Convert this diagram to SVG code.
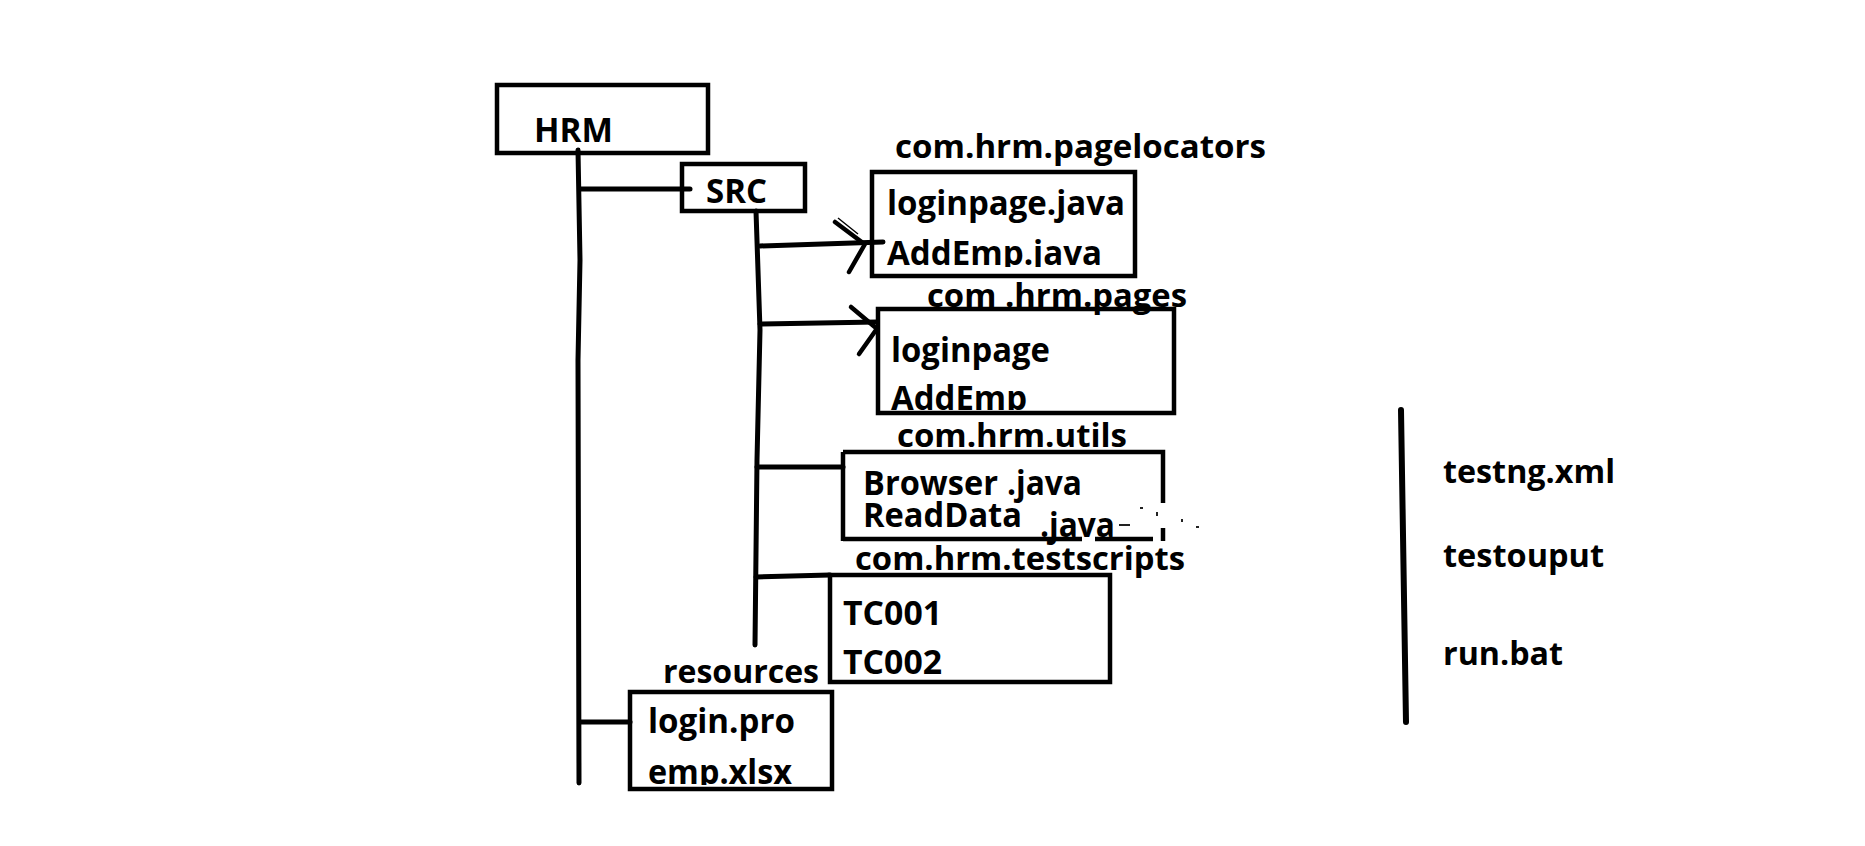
<svg xmlns="http://www.w3.org/2000/svg" width="1865" height="846" viewBox="0 0 1865 846">
<style>
.t{font-family:"Open Sans","Liberation Sans",sans-serif;font-weight:700;fill:#000;font-size:34px}
.lb{font-size:33px}
.box{fill:none;stroke:#000;stroke-width:4.5}
.ln{fill:none;stroke:#000;stroke-width:5;stroke-linecap:round;stroke-linejoin:round}
.ah{fill:none;stroke:#000;stroke-width:4.5;stroke-linecap:round}
</style>
<defs>
<clipPath id="c1"><rect x="860" y="220" width="300" height="47"/></clipPath>
<clipPath id="c2"><rect x="860" y="370" width="300" height="40"/></clipPath>
<clipPath id="c3"><rect x="630" y="740" width="200" height="45"/></clipPath>
</defs>
<rect width="1865" height="846" fill="#fff"/>
<g id="connectors">
<polyline class="ln" points="578,150 580,260 578,360 579,783"/>
<polyline class="ln" points="756,211 760,330 757,460 755,645"/>
<line class="ln" x1="580" y1="189" x2="690" y2="189"/>
<line class="ln" x1="580" y1="722" x2="630" y2="722"/>
<line class="ln" x1="760" y1="246" x2="883" y2="242"/>
<path class="ah" d="M835,222 L863,243 M849,272 L865,244"/>
<path d="M838,218 L858,234" stroke="#000" stroke-width="1.5" fill="none"/>
<line class="ln" x1="760" y1="324" x2="877" y2="322"/>
<path class="ah" d="M851,307 L876,328 M859,354 L876,330"/>
<line class="ln" x1="757" y1="467" x2="843" y2="467"/>
<line class="ln" x1="756" y1="577" x2="830" y2="575"/>
</g>
<g id="hrm">
<rect class="box" x="497" y="85" width="211" height="68"/>
<text class="t" x="534" y="142" font-size="36" textLength="79" lengthAdjust="spacingAndGlyphs">HRM</text>
</g>
<g id="src">
<rect class="box" x="682" y="164" width="123" height="47"/>
<text class="t" x="706" y="203" font-size="32" textLength="61" lengthAdjust="spacingAndGlyphs">SRC</text>
</g>
<g id="pagelocators">
<text class="t lb" x="895" y="158" textLength="371" lengthAdjust="spacingAndGlyphs">com.hrm.pagelocators</text>
<text class="t" x="887" y="215" textLength="238" lengthAdjust="spacingAndGlyphs">loginpage.java</text>
<text class="t" x="887" y="265" textLength="215" lengthAdjust="spacingAndGlyphs" clip-path="url(#c1)">AddEmp.java</text>
<rect class="box" x="872" y="172" width="263" height="104"/>
</g>
<g id="pages">
<text class="t lb" x="927" y="307" textLength="260" lengthAdjust="spacingAndGlyphs">com .hrm.pages</text>
<text class="t" x="891" y="362" textLength="159" lengthAdjust="spacingAndGlyphs">loginpage</text>
<text class="t" x="891" y="410" textLength="136" lengthAdjust="spacingAndGlyphs" clip-path="url(#c2)">AddEmp</text>
<rect class="box" x="878" y="309" width="296" height="104"/>
</g>
<g id="utils">
<text class="t lb" x="897" y="447" textLength="230" lengthAdjust="spacingAndGlyphs">com.hrm.utils</text>
<text class="t" x="863" y="495" textLength="135" lengthAdjust="spacingAndGlyphs">Browser</text>
<text class="t" x="1007" y="495" textLength="75" lengthAdjust="spacingAndGlyphs">.java</text>
<text class="t" x="863" y="527" textLength="159" lengthAdjust="spacingAndGlyphs">ReadData</text>
<path class="box" d="M843,452 H1163 V503 M1163,528 V541 M843,452 V541 M843,539 H1082 M1095,539 H1153"/>
<text class="t" x="1040" y="537" textLength="75" lengthAdjust="spacingAndGlyphs">.java</text>
<path d="M1119,525 H1130 M1140,508 h3 M1157,512 v4 M1182,519 v3 M1196,527 h3" stroke="#222" stroke-width="2" fill="none"/>
</g>
<g id="testscripts">
<text class="t lb" x="855" y="570" textLength="330" lengthAdjust="spacingAndGlyphs">com.hrm.testscripts</text>
<text class="t" x="843" y="625" textLength="99" lengthAdjust="spacingAndGlyphs">TC001</text>
<text class="t" x="843" y="674" textLength="99" lengthAdjust="spacingAndGlyphs">TC002</text>
<rect class="box" x="830" y="575" width="280" height="107"/>
</g>
<g id="resources">
<text class="t lb" x="663" y="683" textLength="156" lengthAdjust="spacingAndGlyphs">resources</text>
<text class="t" x="648" y="733" textLength="147" lengthAdjust="spacingAndGlyphs">login.pro</text>
<text class="t" x="648" y="784" textLength="144" lengthAdjust="spacingAndGlyphs" clip-path="url(#c3)">emp.xlsx</text>
<rect class="box" x="630" y="692" width="202" height="97"/>
</g>
<g id="rootfiles">
<line x1="1401" y1="410" x2="1406" y2="722" stroke="#000" stroke-width="6" stroke-linecap="round"/>
<text class="t lb" x="1443" y="483" textLength="172" lengthAdjust="spacingAndGlyphs">testng.xml</text>
<text class="t lb" x="1443" y="567" textLength="161" lengthAdjust="spacingAndGlyphs">testouput</text>
<text class="t lb" x="1443" y="665" textLength="120" lengthAdjust="spacingAndGlyphs">run.bat</text>
</g>
</svg>
